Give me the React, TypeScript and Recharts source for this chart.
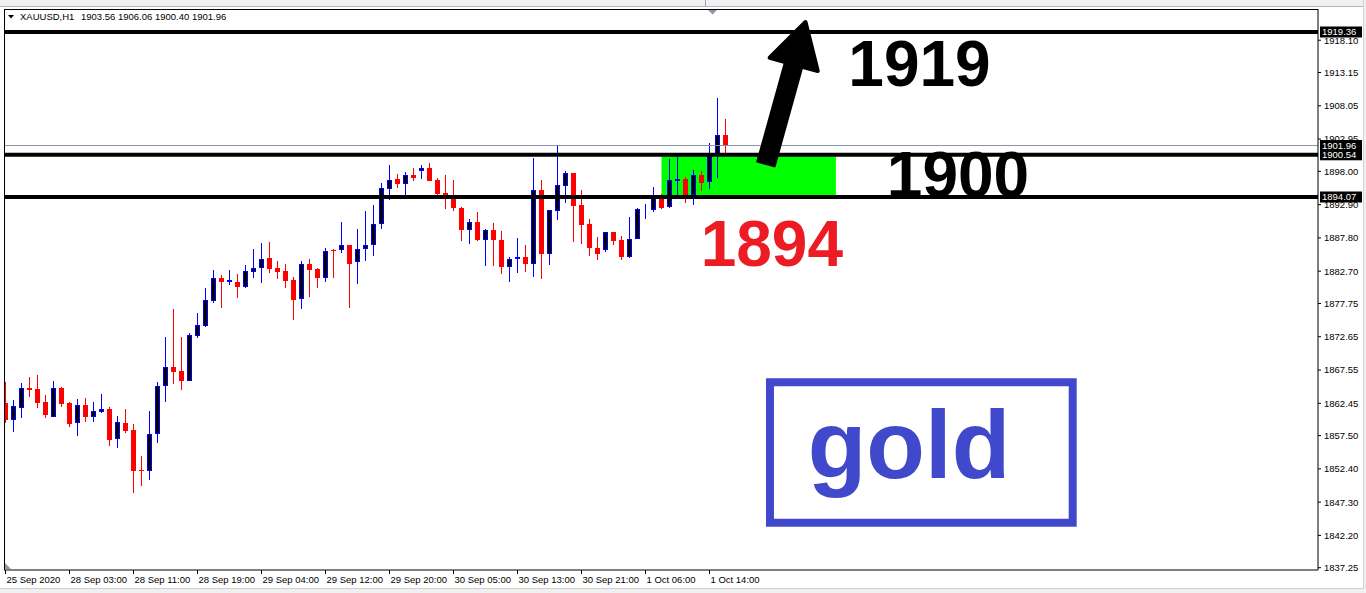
import React from 'react';
import { ComposedChart, Bar, XAxis, YAxis, ReferenceLine, ReferenceArea, ReferenceDot } from 'recharts';

// ---- data (XAUUSD H1) ----
const opens = [
  1862.45, 1859.89, 1861.78, 1864.80, 1864.64, 1862.65, 1860.40, 1864.80, 1862.50, 1859.39,
  1862.19, 1860.40, 1861.16, 1861.58, 1856.93, 1859.43, 1858.36, 1852.27, 1852.03, 1857.75,
  1865.10, 1868.06, 1867.40, 1865.92, 1872.77, 1874.30, 1878.18, 1881.61, 1881.04, 1881.00,
  1880.32, 1882.62, 1883.14, 1884.68, 1883.14, 1882.68, 1881.35, 1878.39, 1883.76, 1883.04,
  1881.70, 1885.99, 1885.90, 1886.67, 1884.06, 1886.05, 1886.67, 1889.93, 1895.34, 1896.83,
  1896.11, 1897.44, 1898.01, 1898.47, 1896.63, 1894.64, 1894.12, 1892.34, 1889.06, 1890.24,
  1887.43, 1888.97, 1887.48, 1883.39, 1884.52, 1884.87, 1883.76, 1895.10, 1885.38, 1891.88,
  1895.80, 1897.75, 1892.85, 1889.93, 1886.25, 1885.90, 1888.66, 1887.48, 1884.92, 1887.59,
  1892.12, 1892.12, 1893.87, 1892.58, 1896.57, 1896.78, 1894.38, 1897.44, 1896.32, 1900.60,
  1903.56,
];
const highs = [
  1865.76, 1862.96, 1865.61, 1866.53, 1866.79, 1863.72, 1865.87, 1864.99, 1862.70, 1863.11,
  1863.31, 1862.70, 1863.92, 1861.93, 1860.55, 1861.58, 1859.33, 1854.37, 1861.32, 1865.76,
  1872.66, 1876.91, 1872.66, 1873.18, 1876.34, 1880.17, 1882.88, 1882.12, 1882.88, 1882.27,
  1883.65, 1886.10, 1887.07, 1887.17, 1884.26, 1883.80, 1881.81, 1884.26, 1884.57, 1883.19,
  1886.21, 1886.05, 1890.24, 1886.70, 1889.17, 1891.93, 1892.85, 1896.22, 1898.98, 1897.60,
  1897.86, 1898.52, 1898.98, 1899.28, 1896.98, 1897.44, 1896.68, 1892.58, 1890.65, 1891.77,
  1889.12, 1890.09, 1888.86, 1884.92, 1887.83, 1886.71, 1900.09, 1896.68, 1892.08, 1902.04,
  1898.10, 1897.80, 1895.14, 1890.65, 1887.94, 1888.71, 1888.71, 1888.09, 1891.01, 1892.43,
  1893.00, 1895.60, 1894.49, 1899.90, 1900.25, 1897.18, 1898.21, 1898.10, 1902.30, 1909.20,
  1906.06,
];
const lows = [
  1859.48, 1858.10, 1860.24, 1863.46, 1861.78, 1860.24, 1860.40, 1861.93, 1858.87, 1857.49,
  1859.63, 1859.63, 1860.92, 1855.95, 1855.65, 1857.95, 1848.75, 1849.78, 1850.70, 1856.41,
  1862.70, 1865.41, 1864.49, 1865.92, 1872.41, 1874.19, 1877.78, 1877.10, 1880.58, 1878.64,
  1880.17, 1881.70, 1880.94, 1882.47, 1881.55, 1880.17, 1875.22, 1876.95, 1878.79, 1880.12,
  1881.09, 1881.70, 1885.44, 1877.10, 1880.78, 1884.22, 1885.07, 1889.21, 1893.61, 1895.40,
  1894.38, 1896.57, 1896.88, 1896.52, 1894.42, 1892.28, 1891.97, 1887.37, 1886.91, 1887.37,
  1883.54, 1883.54, 1882.32, 1881.09, 1882.38, 1882.62, 1881.76, 1881.46, 1883.69, 1890.59,
  1893.20, 1887.22, 1886.91, 1885.07, 1884.46, 1885.69, 1886.76, 1884.46, 1884.77, 1887.59,
  1890.65, 1891.82, 1892.19, 1892.43, 1894.38, 1893.11, 1892.85, 1895.04, 1895.25, 1896.94,
  1900.40,
];
const closes = [
  1859.89, 1862.04, 1864.75, 1864.49, 1862.54, 1860.66, 1864.75, 1862.39, 1859.33, 1862.19,
  1860.40, 1861.27, 1861.58, 1856.83, 1859.59, 1858.25, 1852.12, 1852.03, 1857.75, 1865.10,
  1868.06, 1867.29, 1865.92, 1872.87, 1874.45, 1878.28, 1881.61, 1881.09, 1881.35, 1880.32,
  1882.68, 1883.14, 1884.52, 1883.08, 1882.62, 1881.24, 1878.28, 1883.76, 1882.93, 1881.70,
  1885.84, 1885.84, 1886.67, 1883.85, 1886.05, 1886.67, 1889.89, 1895.40, 1896.63, 1896.11,
  1897.44, 1897.03, 1898.47, 1896.57, 1894.58, 1894.33, 1892.43, 1889.06, 1890.19, 1887.53,
  1888.97, 1887.43, 1883.39, 1884.57, 1884.87, 1883.76, 1895.10, 1885.38, 1892.03, 1895.91,
  1897.70, 1892.74, 1889.83, 1886.21, 1885.38, 1888.66, 1887.37, 1884.92, 1887.59, 1892.23,
  1892.28, 1893.87, 1892.43, 1896.63, 1896.78, 1894.38, 1897.44, 1896.26, 1900.36, 1903.50,
  1901.96,
];

const timeTickIdx = [0, 8, 16, 24, 32, 40, 48, 56, 64, 72, 80, 88];
const timeLabels = [
  '25 Sep 2020', '28 Sep 03:00', '28 Sep 11:00', '28 Sep 19:00', '29 Sep 04:00', '29 Sep 12:00',
  '29 Sep 20:00', '30 Sep 05:00', '30 Sep 13:00', '30 Sep 21:00', '1 Oct 06:00', '1 Oct 14:00',
];
const priceTicks = [
  1918.10, 1913.15, 1908.05, 1902.95, 1898.00, 1892.90, 1887.80, 1882.70, 1877.75,
  1872.65, 1867.55, 1862.45, 1857.50, 1852.40, 1847.30, 1842.20, 1837.25,
];
const levelLines = [1919.36, 1900.54, 1894.07];
const bidPrice = 1901.96;
const headerSymbol = 'XAUUSD,H1';
const headerOHLC = '1903.56 1906.06 1900.40 1901.96';

// annotations (bar index, price)
const zoneFromIdx = 82;
const zoneToIdx = 103.8;
const zoneLow = 1894.07;
const zoneHigh = 1900.54;
const arrowFrom = { i: 95.06, price: 1899.13 };
const arrowTo = { i: 100.0, price: 1920.89 };
const textLabels = [
  { text: '1919', i: 114.25, price: 1911.08, color: '#000000', size: 64 },
  { text: '1900', i: 119.06, price: 1894.0, color: '#000000', size: 64 },
  { text: '1894', i: 95.79, price: 1883.54, color: '#ed1c24', size: 64 },
  { text: 'gold', i: 112.94, price: 1851.0, color: '#4049cc', size: 96 },
];
const goldBox = { i1: 95.56, i2: 133.4, p1: 1844.15, p2: 1865.67 };

const xDomain = [-0.1875, 164.0625];
const yDomain = [1836.9, 1922.885];

const data = opens.map((o, i) => ({ i, open: o, high: highs[i], low: lows[i], close: closes[i] }));

const FONT = 'Liberation Sans, Arial, sans-serif';

const Candle = (props: any) => {
  const { x, y, width, height, payload } = props;
  if (!payload) return null;
  const { open, high, low, close } = payload;
  const top = Math.min(y, y + height);
  const h = Math.abs(height);
  const ppu = h / (high - low);
  const toY = (v: number) => top + (high - v) * ppu;
  const cx = Math.round(x + width / 2 - 0.5) + 0.5;
  const yH = Math.round(toY(high));
  const yL = Math.round(toY(low));
  const bull = close >= open;
  if (bull) {
    const yC = Math.round(toY(close));
    const yO = Math.round(toY(open));
    return (
      <g>
        <line x1={cx} x2={cx} y1={yH} y2={yL} stroke="#0000ff" strokeWidth={1} />
        <rect x={cx - 2} y={yC + 0.5} width={4} height={Math.max(yO - yC - 1, 0)} fill="#000" stroke="#0000ff" strokeWidth={1} />
      </g>
    );
  }
  const yO = Math.round(toY(open));
  const yC = Math.round(toY(close));
  return (
    <g>
      <line x1={cx} x2={cx} y1={yH} y2={yL} stroke="#ff0000" strokeWidth={1} />
      <rect x={cx - 2.5} y={yO} width={5} height={Math.max(yC - yO, 1)} fill="#ff0000" />
    </g>
  );
};

const XTick = (props: any) => {
  const { x, y, payload } = props;
  const k = timeTickIdx.indexOf(payload.value);
  const label = k >= 0 ? timeLabels[k] : '';
  return (
    <text x={x + 1} y={y} dy="0.71em" textAnchor="start" fontSize={9.5} fontFamily={FONT} fill="#000">
      {label}
    </text>
  );
};

const priceTag = (value: string) => (props: any) => {
  const vb = props.viewBox || {};
  const right = (vb.x || 0) + (vb.width || 0);
  const cy = vb.y || 0;
  return (
    <g>
      <rect x={right + 2} y={cy - 5.5} width={42} height={11} fill="#000" />
      <text x={right + 4} y={cy} dy="0.355em" fontSize={9.5} fontFamily={FONT} fill="#fff">
        {value}
      </text>
    </g>
  );
};

const ArrowShape = (props: any) => {
  const { x1, y1, x2, y2 } = props;
  if ([x1, y1, x2, y2].some((v) => typeof v !== 'number' || isNaN(v))) return null;
  const dx = x2 - x1;
  const dy = y2 - y1;
  const len = Math.hypot(dx, dy);
  const ux = dx / len;
  const uy = dy / len;
  const nx = -uy;
  const ny = ux;
  const headL = 44;
  const headW = 25;
  const sw = 9;
  const bx = x2 - ux * headL;
  const by = y2 - uy * headL;
  const ex = bx + ux * 4;
  const ey = by + uy * 4;
  const shaft = [
    [x1 + nx * sw, y1 + ny * sw],
    [ex + nx * sw, ey + ny * sw],
    [ex - nx * sw, ey - ny * sw],
    [x1 - nx * sw, y1 - ny * sw],
  ];
  const head = [
    [x2, y2],
    [bx + nx * headW, by + ny * headW],
    [bx - nx * headW, by - ny * headW],
  ];
  const pts = (a: number[][]) => a.map((p) => p.join(',')).join(' ');
  return (
    <g>
      <polygon points={pts(shaft)} fill="#000" stroke="#000" strokeWidth={2} strokeLinejoin="round" />
      <polygon points={pts(head)} fill="#000" stroke="#000" strokeWidth={4} strokeLinejoin="round" />
    </g>
  );
};

const textShape = (t: { text: string; color: string; size: number }) => (props: any) => (
  <text
    x={props.cx}
    y={props.cy}
    textAnchor="middle"
    fontFamily={FONT}
    fontWeight="bold"
    fontSize={t.size}
    fill={t.color}
  >
    {t.text}
  </text>
);

export default function App() {
  return (
    <div style={{ position: 'absolute', left: 0, top: 0, width: 1366, height: 593, background: '#fff', overflow: 'hidden' }}>
      <ComposedChart
        width={1366}
        height={593}
        data={data}
        margin={{ top: 9, right: 0, bottom: 0, left: 4 }}
      >
        <XAxis
          type="number"
          dataKey="i"
          domain={xDomain}
          allowDataOverflow
          ticks={timeTickIdx}
          interval={0}
          height={23}
          tickSize={4}
          tickMargin={2}
          axisLine={{ stroke: '#000' }}
          tickLine={{ stroke: '#000' }}
          tick={(p: any) => <XTick {...p} />}
        />
        <YAxis
          orientation="right"
          type="number"
          domain={yDomain}
          allowDataOverflow
          ticks={priceTicks}
          interval={0}
          width={48}
          tickSize={3}
          tickMargin={3}
          tickFormatter={(v: number) => v.toFixed(2)}
          axisLine={{ stroke: '#000' }}
          tickLine={{ stroke: '#000' }}
          tick={{ fontSize: 9.5, fill: '#000', fontFamily: FONT, textAnchor: 'start' }}
        />
        <ReferenceArea
          x1={zoneFromIdx}
          x2={zoneToIdx}
          y1={zoneLow}
          y2={zoneHigh}
          fill="#00ff00"
          fillOpacity={1}
          stroke="none"
        />
        <Bar
          dataKey={(d: any) => [d.low, d.high]}
          barSize={8}
          isAnimationActive={false}
          shape={(p: any) => <Candle {...p} />}
        />
        <ReferenceLine y={bidPrice} stroke="#8796a8" strokeWidth={1} label={priceTag(bidPrice.toFixed(2))} />
        {levelLines.map((v) => (
          <ReferenceLine key={v} y={v} stroke="#000" strokeWidth={4} label={priceTag(v.toFixed(2))} />
        ))}
        <ReferenceLine
          segment={[
            { x: arrowFrom.i, y: arrowFrom.price },
            { x: arrowTo.i, y: arrowTo.price },
          ]}
          stroke="#000"
          shape={(p: any) => <ArrowShape {...p} />}
        />
        <ReferenceArea
          x1={goldBox.i1}
          x2={goldBox.i2}
          y1={goldBox.p1}
          y2={goldBox.p2}
          fill="none"
          fillOpacity={0}
          stroke="#4049cc"
          strokeWidth={8}
        />
        {textLabels.map((t) => (
          <ReferenceDot key={t.text} x={t.i} y={t.price} r={0} shape={textShape(t)} />
        ))}
      </ComposedChart>
      <svg
        width={1366}
        height={593}
        style={{ position: 'absolute', left: 0, top: 0, pointerEvents: 'none' }}
      >
        <rect x={0} y={0} width={1366} height={6} fill="#f0f0f0" />
        <line x1={0} x2={1366} y1={6.5} y2={6.5} stroke="#b4b4b4" />
        <line x1={705.5} x2={705.5} y1={0} y2={6} stroke="#a0a0a0" />
        <line x1={4} x2={1318} y1={9.5} y2={9.5} stroke="#000" />
        <line x1={4.5} x2={4.5} y1={9} y2={570} stroke="#000" />
        <polygon points="708,10 717,10 712.5,14.5" fill="#8a9aaa" />
        <polygon points="5,563 5,569 11,569" fill="#8a9aaa" />
        <polygon points="8,15 14,15 11,18.5" fill="#000" />
        <text x={20} y={20} fontSize={9.5} fontFamily={FONT} fill="#000">{headerSymbol}</text>
        <text x={81} y={20} fontSize={9.5} fontFamily={FONT} fill="#000">{headerOHLC}</text>
        <line x1={1363.5} x2={1363.5} y1={0} y2={589} stroke="#d0d0d0" />
        <line x1={0} x2={1366} y1={588.5} y2={588.5} stroke="#d0d0d0" />
        <rect x={0} y={589} width={1366} height={4} fill="#f0f0f0" />
        <rect x={1364} y={0} width={2} height={593} fill="#f0f0f0" />
      </svg>
    </div>
  );
}
